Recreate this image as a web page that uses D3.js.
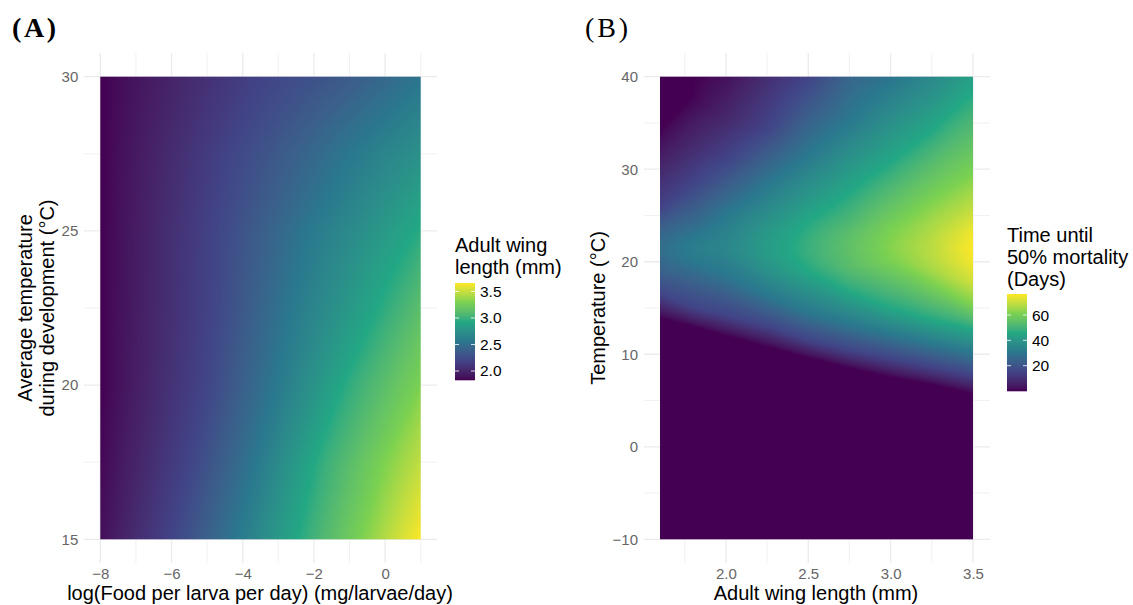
<!DOCTYPE html>
<html><head><meta charset="utf-8">
<script src="https://cdn.jsdelivr.net/npm/d3@7"></script>
<style>html,body{margin:0;padding:0;background:#fff}svg{display:block}
text{font-family:"Liberation Sans",Arial,sans-serif}</style></head>
<body><svg id="c" width="1133" height="605"></svg>
<script>
// viridis stops as used by the colour scale
const viridisStops = ["#440154","#414487","#2A788E","#22A884","#7AD151","#FDE725"];

// Panel A, row by row (temperature), as (log food, wing length) nodes
const foodTemps = [30,27.5,25,22.5,20,17.5,15];
const foodNodeX = [
 [-8,-3.4,-1.5,0,0.5,1],
 [-8,-4.4,-1.0,0,0.5,1],
 [-8,-4.8,-2.2,-0.5,0.86,1],
 [-8,-4.85,-2.7,-0.21,0.5,1],
 [-8,-5.05,-3.1,-1.2,0.95,1],
 [-8,-5.5,-3.65,-2.0,-0.09,1],
 [-8,-6.0,-4.2,-2.45,-0.7,1]];
const foodNodeWing = [
 [1.83,2.20,2.32,2.45,2.50,2.54],
 [1.83,2.20,2.56,2.66,2.70,2.76],
 [1.83,2.20,2.56,2.76,2.93,2.95],
 [1.83,2.20,2.56,2.93,3.04,3.13],
 [1.83,2.20,2.56,2.93,3.29,3.31],
 [1.85,2.20,2.56,2.93,3.29,3.48],
 [1.88,2.20,2.56,2.93,3.29,3.66]];
const wingLegendDomain = [1.83,3.66];
const wingLegendTicks = [2.0,2.5,3.0,3.5];

// Panel B, column by column (wing length), as (temperature, days) nodes
const wingCols = [1.6,1.8,2.0,2.25,2.5,2.75,3.0,3.25,3.5];
const mortNodeT = [
 [-10,13.9,16.4,18.6,20.0,20.8,21.1,21.3,21.5,21.9,22.8,23.9,25.7,29.9,34.3,40],
 [-10,13.0,15.0,20.0,20.4,20.8,21.1,21.3,21.5,21.8,22.6,25.6,28.5,32.8,38.0,40],
 [-10,12.0,14.2,18.6,20.0,20.7,21.1,21.3,21.5,22.1,23.2,25.2,28.1,31.0,35.3,40],
 [-10,10.8,13.0,16.3,18.9,20.2,20.8,21.2,21.5,22.3,23.4,24.7,28.4,31.5,34.3,40],
 [-10,9.6,11.5,14.5,18.9,20.0,20.6,21.1,21.5,22.3,23.2,24.3,28.1,31.6,35.9,40],
 [-10,8.5,10.4,13.2,16.7,19.3,20.2,20.8,21.5,22.3,23.0,24.5,27.4,31.5,35.3,40],
 [-10,7.5,9.5,12.1,15.0,20.1,20.5,21.0,21.5,22.2,22.8,23.4,27.1,30.7,35.0,40],
 [-10,6.7,8.6,11.1,13.7,17.6,19.1,20.4,21.5,22.6,24.7,26.7,30.5,34.1,37.5,40],
 [-10,5.7,7.7,10.1,12.7,15.2,17.7,19.8,21.3,23.2,25.9,29.6,33.9,38.2,39.1,40]];
const mortNodeDays = [
 [0,0,15.3,23,26,27.2,27.4,27.5,27.6,27.4,26,23,15.3,7.7,0,0],
 [0,0,15.3,30.6,31.4,31.8,31.9,32.1,32.2,31.9,30.6,23,15.3,7.7,0,0],
 [0,0,15.3,30.6,32.9,34.5,34.9,35.1,35.2,34.9,33.7,30.6,23,15.3,7.7,2.3],
 [0,0,15.3,30.6,38.3,41,41.7,42,42.1,41.7,40.6,38.3,30.6,23,15.3,9.2],
 [0,0,15.3,30.6,46,47.5,48.3,48.5,48.6,48.3,47.5,46,38.3,30.6,23,15.3],
 [0,0,15.3,30.6,46,53.6,54.4,54.8,55.2,54.8,54.4,51.3,46,38.3,30.6,25.3],
 [0,0,15.3,30.6,46,61.3,61.7,62,62.4,62,61.7,61.3,53.6,46,38.3,29.5],
 [0,0,15.3,30.6,46,61.3,65.9,67.8,68.2,67.8,65.1,61.3,53.6,46,39.8,36],
 [0,0,15.3,30.6,46,61.3,70.5,75.1,76.6,75.1,68.9,61.3,53.6,46,44.8,43.7]];
const daysLegendDomain = [0,76.6];
const daysLegendTicks = [20,40,60];

const svg = d3.select("#c");

function colorScale(dom){
  const n = viridisStops.length;
  return d3.scaleLinear()
    .domain(d3.range(n).map(i => dom[0] + (dom[1]-dom[0])*i/(n-1)))
    .range(viridisStops).interpolate(d3.interpolateLab).clamp(true);
}

// per-line piecewise scale between the read rows/columns
function lineScale(keys, posT, valT, k){
  const order = keys[0] > keys[1] ? -1 : 1;
  let i = 0;
  while (i < keys.length-2 && (k-keys[i+1])*order > 0) i++;
  const f = Math.max(0, Math.min(1, (k-keys[i])/(keys[i+1]-keys[i])));
  const mix = (a,b) => a.map((v,j) => v + (b[j]-v)*f);
  const pos = mix(posT[i],posT[i+1]), val = mix(valT[i],valT[i+1]);
  return d3.scaleLinear().domain(pos).range(val).clamp(true);
}

function heat(g, x, y, keys, posT, valT, byRow, color){
  const x0 = x.range()[0], x1 = x.range()[1], y0 = y.range()[1], y1 = y.range()[0];
  const w = Math.round(x1-x0), h = Math.round(y1-y0);
  const cv = document.createElement("canvas"); cv.width = w; cv.height = h;
  const ctx = cv.getContext("2d"), im = ctx.createImageData(w,h);
  const put = (px,py,v) => { const c = d3.rgb(color(v)), o = (py*w+px)*4;
    im.data[o]=c.r; im.data[o+1]=c.g; im.data[o+2]=c.b; im.data[o+3]=255; };
  if (byRow) for (let py=0; py<h; py++){
    const s = lineScale(keys,posT,valT,y.invert(y0+py+.5));
    for (let px=0; px<w; px++) put(px,py,s(x.invert(x0+px+.5)));
  } else for (let px=0; px<w; px++){
    const s = lineScale(keys,posT,valT,x.invert(x0+px+.5));
    for (let py=0; py<h; py++) put(px,py,s(y.invert(y0+py+.5)));
  }
  ctx.putImageData(im,0,0);
  g.append("image").attr("x",x0).attr("y",y0).attr("width",x1-x0).attr("height",y1-y0)
   .attr("preserveAspectRatio","none").attr("href",cv.toDataURL());
}

function panel(o){
  const g = svg.append("g");
  const gridL = o.px[0], gridR = o.px[1], gridT = 53, gridB = 563;
  const line = (sel, vals, cls, sw) => sel.selectAll("line."+cls).data(vals).join("line").attr("class",cls)
     .attr("stroke", "#EBEBEB").attr("stroke-width", sw);
  line(g, o.minorX, "mx", .7).attr("x1",o.x).attr("x2",o.x).attr("y1",gridT).attr("y2",gridB);
  line(g, o.minorY, "my", .7).attr("y1",o.y).attr("y2",o.y).attr("x1",gridL).attr("x2",gridR);
  line(g, o.majorX, "Mx", 1.3).attr("x1",o.x).attr("x2",o.x).attr("y1",gridT).attr("y2",gridB);
  line(g, o.majorY, "My", 1.3).attr("y1",o.y).attr("y2",o.y).attr("x1",gridL).attr("x2",gridR);

  heat(g, o.x, o.y, o.keys, o.posT, o.valT, o.byRow, o.color);

  const ax = g.append("g").attr("transform",`translate(0,${o.y.range()[0]+29.5})`)
    .call(d3.axisBottom(o.x).tickValues(o.majorX).tickSize(0).tickPadding(0).tickFormat(o.fx));
  const ay = g.append("g").attr("transform",`translate(${o.x.range()[0]-22},0)`)
    .call(d3.axisLeft(o.y).tickValues(o.majorY).tickSize(0).tickPadding(0).tickFormat(d3.format("d")));
  [ax,ay].forEach(a=>{a.select(".domain").remove();
    a.selectAll("text").attr("font-size",15).attr("fill","#666").attr("font-family",'"Liberation Sans"');});
  ax.selectAll("text").attr("dy","0.71em");

  g.append("text").attr("x",o.xTitleX).attr("y",600).attr("text-anchor","middle")
    .attr("font-size",20).attr("fill","#000").text(o.xTitle);
  o.yTitle.forEach((t,i)=> g.append("text")
    .attr("transform",`translate(${o.yTitleX[i]},308) rotate(-90)`)
    .attr("text-anchor","middle").attr("font-size",20).attr("fill","#000").text(t));

  // legend
  const lg = svg.append("g");
  o.legTitle.forEach((t,i)=> lg.append("text").attr("x",o.legX).attr("y",o.legTitleY[i])
    .attr("font-size",20).attr("fill","#000").text(t));
  const ls = d3.scaleLinear().domain(o.legDomain).range([o.legB,o.legT]);
  const steps = d3.range(o.legB-o.legT);
  lg.selectAll("rect").data(steps).join("rect")
    .attr("x",o.legX).attr("width",20).attr("height",1.3)
    .attr("y",d=>o.legT+d)
    .attr("fill",d=>o.color(ls.invert(o.legT+d+.5)));
  o.legTicks.forEach(t=>{
    [[o.legX,o.legX+4],[o.legX+16,o.legX+20]].forEach(p=>
      lg.append("line").attr("x1",p[0]).attr("x2",p[1]).attr("y1",ls(t)).attr("y2",ls(t))
        .attr("stroke","#fff").attr("stroke-width",.8));
    lg.append("text").attr("x",o.legX+25).attr("y",ls(t)+5.5).attr("font-size",15.5).attr("fill","#000")
      .text(o.legFmt(t));
  });
}

panel({
  x:d3.scaleLinear().domain([-8,1]).range([100.3,420.7]),
  y:d3.scaleLinear().domain([15,30]).range([539.3,76.7]),
  px:[84,437], majorX:[-8,-6,-4,-2,0], minorX:[-7,-5,-3,-1,1], majorY:[15,20,25,30], minorY:[17.5,22.5,27.5],
  keys:foodTemps, posT:foodNodeX, valT:foodNodeWing, byRow:true, color:colorScale(wingLegendDomain),
  fx:d3.format("d"), xTitle:"log(Food per larva per day) (mg/larvae/day)", xTitleX:260,
  yTitle:["Average temperature","during development (°C)"], yTitleX:[32,54],
  legTitle:["Adult wing","length (mm)"], legTitleY:[252,274], legX:455, legT:283, legB:380,
  legDomain:wingLegendDomain, legTicks:wingLegendTicks, legFmt:d3.format(".1f")
});
panel({
  x:d3.scaleLinear().domain([1.6,3.5]).range([660,973]),
  y:d3.scaleLinear().domain([-10,40]).range([539.3,76.7]),
  px:[644,990], majorX:[2,2.5,3,3.5], minorX:[1.75,2.25,2.75,3.25], majorY:[-10,0,10,20,30,40], minorY:[-5,5,15,25,35],
  keys:wingCols, posT:mortNodeT, valT:mortNodeDays, byRow:false, color:colorScale(daysLegendDomain),
  fx:d3.format(".1f"), xTitle:"Adult wing length (mm)", xTitleX:816,
  yTitle:["Temperature (°C)"], yTitleX:[605],
  legTitle:["Time until","50% mortality","(Days)"], legTitleY:[242,264,286], legX:1007, legT:294, legB:391,
  legDomain:daysLegendDomain, legTicks:daysLegendTicks, legFmt:d3.format("d")
});

svg.append("text").attr("x",12).attr("y",37).attr("font-size",28).attr("font-weight","bold")
  .style("font-family",'"Liberation Serif"').attr("textLength",44).text("(A)");
svg.append("text").attr("x",585).attr("y",37).attr("font-size",28)
  .style("font-family",'"Liberation Serif"').attr("textLength",43).text("(B)");
</script></body></html>
